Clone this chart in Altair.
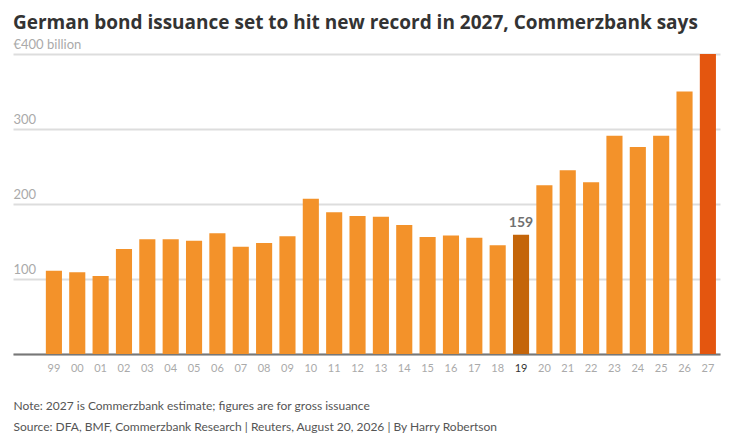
import altair as alt
import pandas as pd

years = ["99", "00", "01", "02", "03", "04", "05", "06", "07", "08", "09", "10",
         "11", "12", "13", "14", "15", "16", "17", "18", "19", "20", "21", "22",
         "23", "24", "25", "26", "27"]
values = [111, 109, 104, 140, 153, 153, 151, 161, 143, 148, 157, 207,
          189, 184, 183, 172, 156, 158, 155, 145, 159, 225, 245, 229,
          291, 276, 291, 350, 400]
kinds = ["normal"] * 20 + ["highlight"] + ["normal"] * 7 + ["estimate"]

df = pd.DataFrame({"year": years, "value": values, "kind": kinds})

FONT = "Lato"

x = alt.X(
    "year:N",
    sort=years,
    scale=alt.Scale(paddingInner=0.31, paddingOuter=0.79, align=0.89),
    axis=alt.Axis(
        title=["Note: 2027 is Commerzbank estimate; figures are for gross issuance",
               "Source: DFA, BMF, Commerzbank Research | Reuters, August 20, 2026 | By Harry Robertson"],
        titleFont=FONT,
        titleFontSize=12,
        titleFontWeight="normal",
        titleColor="#555555",
        titleAnchor="start",
        titleAlign="left",
        titleBaseline="top",
        titleX=0,
        titleY=46,
        titleLineHeight=21,
        labelAngle=0,
        labelFont=FONT,
        labelFontSize=11,
        labelColor={"condition": {"test": "datum.value === '19'", "value": "#333333"},
                    "value": "#aaaaaa"},
        labelPadding=8,
        ticks=False,
        domainColor="#777777",
        domainWidth=2,
        grid=False,
    ),
)

y = alt.Y(
    "value:Q",
    scale=alt.Scale(domain=[0, 400]),
    axis=alt.Axis(
        title=None,
        values=[0, 100, 200, 300, 400],
        labelExpr="datum.value == 400 ? '€400 billion' : (datum.value == 0 ? '' : datum.label)",
        labelAlign="left",
        labelBaseline="bottom",
        labelPadding=0,
        labelOffset=-3,
        labelFont=FONT,
        labelFontSize=13,
        labelColor="#aaaaaa",
        ticks=False,
        tickSize=0,
        domain=False,
        grid=True,
        gridColor="#dddddd",
        gridWidth=2,
    ),
)

bars = alt.Chart(df).mark_bar().encode(
    x=x,
    y=y,
    color=alt.Color(
        "kind:N",
        scale=alt.Scale(domain=["normal", "highlight", "estimate"],
                        range=["#F3922A", "#C4650A", "#E4560F"]),
        legend=None,
    ),
)

label = alt.Chart(df).transform_filter(
    alt.datum.year == "19"
).mark_text(
    dy=-5, baseline="bottom", font=FONT, fontSize=14, fontWeight="bold", color="#707070"
).encode(
    x=alt.X("year:N", sort=years),
    y="value:Q",
    text="value:Q",
)

chart = alt.layer(bars, label).properties(
    width=707,
    height=300,
    autosize=alt.AutoSizeParams(type="none"),
    padding={"left": 5, "top": 46, "right": 20, "bottom": 80},
    title=alt.TitleParams(
        "German bond issuance set to hit new record in 2027, Commerzbank says",
        anchor="start",
        frame="group",
        font="Open Sans",
        fontSize=19,
        fontWeight="bold",
        color="#333333",
        offset=5,
    ),
).configure_view(stroke=None)

chart.save("out.html", embed_options={"renderer": "svg", "actions": False})
